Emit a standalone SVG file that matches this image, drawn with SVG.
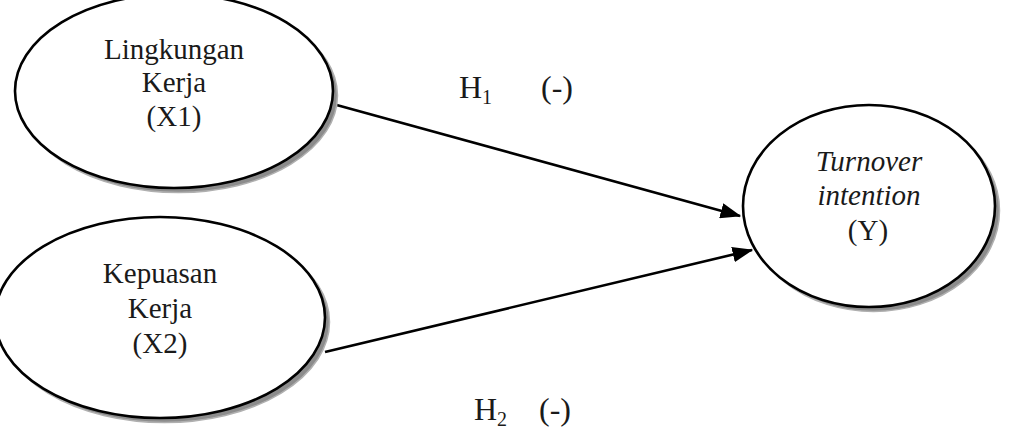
<svg xmlns="http://www.w3.org/2000/svg" width="1024" height="442" viewBox="0 0 1024 442">
<style>
.sh{fill:#8c8c8c;stroke:#b0b0b0;stroke-width:1.5}
.el{fill:#fff;stroke:#000;stroke-width:2.6}
.t{font-family:"Liberation Serif","Times New Roman",serif;font-size:29px;fill:#1a1a1a;text-anchor:middle}
.i{font-style:italic}
.lbl{font-family:"Liberation Serif","Times New Roman",serif;font-size:32px;fill:#1a1a1a}
.sub{font-size:20px}
.ln{stroke:#000;stroke-width:2.6;fill:none;marker-end:url(#arr)}
</style>
<defs>
<marker id="arr" markerWidth="8" markerHeight="6" refX="7.5" refY="3" orient="auto" markerUnits="strokeWidth">
<path d="M0,0 L8,3 L0,6 Z" fill="#000"/>
</marker>
</defs>
<rect width="1024" height="442" fill="#fff"/>
<g id="connectors">
<line class="ln" x1="333" y1="104" x2="740" y2="216"/>
<line class="ln" x1="325" y1="352" x2="752" y2="250"/>
</g>
<g id="x1">
<ellipse class="sh" cx="178.5" cy="95.5" rx="159" ry="97"/>
<ellipse class="el" cx="174" cy="91" rx="159" ry="97"/>
<text class="t" x="174" y="59">Lingkungan</text>
<text class="t" x="174" y="92">Kerja</text>
<text class="t" x="174" y="126">(X1)</text>
</g>
<g id="x2">
<ellipse class="sh" cx="164.5" cy="322" rx="165" ry="100.5"/>
<ellipse class="el" cx="160" cy="317.5" rx="165" ry="100.5"/>
<text class="t" x="160" y="283">Kepuasan</text>
<text class="t" x="160" y="318">Kerja</text>
<text class="t" x="160" y="353">(X2)</text>
</g>
<g id="y">
<ellipse class="sh" cx="873.5" cy="210.5" rx="126" ry="101"/>
<ellipse class="el" cx="869" cy="206" rx="126" ry="101"/>
<text class="t i" x="869" y="171">Turnover</text>
<text class="t i" x="869" y="205">intention</text>
<text class="t" x="868" y="240">(Y)</text>
</g>
<g id="h1">
<text class="lbl" x="459" y="98">H<tspan class="sub" dy="6">1</tspan></text>
<text class="lbl" x="541" y="98">(-)</text>
</g>
<g id="h2">
<text class="lbl" x="474" y="420">H<tspan class="sub" dy="6">2</tspan></text>
<text class="lbl" x="539" y="420">(-)</text>
</g>
</svg>
